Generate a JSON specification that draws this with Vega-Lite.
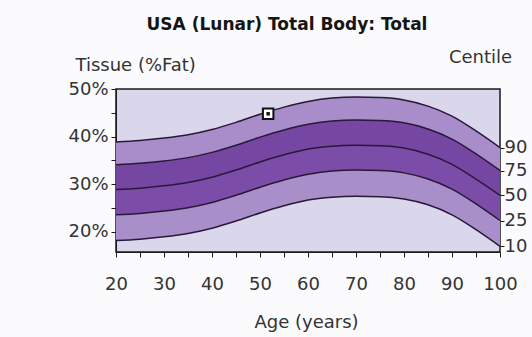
{
  "$schema": "https://vega.github.io/schema/vega-lite/v6.json",
  "width": 384,
  "height": 163,
  "autosize": {"type": "none"},
  "padding": {"left": 116, "top": 89, "right": 32, "bottom": 85},
  "background": "#fbfafc",
  "title": {"text": "USA (Lunar) Total Body: Total", "fontSize": 17, "fontWeight": "bold", "color": "#151515", "anchor": "middle", "dx": -21, "font": "DejaVu Sans", "offset": 14},
  "config": {
    "font": "DejaVu Sans",
    "view": {"fill": "#dad6ec", "stroke": "#1a1a1a", "strokeWidth": 1.5},
    "axis": {"grid": false, "domainColor": "#1a1a1a", "tickColor": "#1a1a1a", "labelFontSize": 18, "labelColor": "#333333", "titleFontSize": 18, "titleFontWeight": "normal", "titleColor": "#333333", "labelFont": "DejaVu Sans", "titleFont": "DejaVu Sans"}
  },
  "datasets": {
    "centiles": [
      {"age": 20, "p90": 38.9, "p75": 34.1, "p50": 28.9, "p25": 23.6, "p10": 18.2},
      {"age": 25, "p90": 39.2, "p75": 34.4, "p50": 29.2, "p25": 23.9, "p10": 18.5},
      {"age": 30, "p90": 39.7, "p75": 34.9, "p50": 29.7, "p25": 24.4, "p10": 19.0},
      {"age": 35, "p90": 40.4, "p75": 35.6, "p50": 30.4, "p25": 25.1, "p10": 19.7},
      {"age": 40, "p90": 41.5, "p75": 36.7, "p50": 31.5, "p25": 26.2, "p10": 20.8},
      {"age": 45, "p90": 43.0, "p75": 38.2, "p50": 33.0, "p25": 27.7, "p10": 22.3},
      {"age": 50, "p90": 44.7, "p75": 39.9, "p50": 34.7, "p25": 29.4, "p10": 24.0},
      {"age": 55, "p90": 46.2, "p75": 41.4, "p50": 36.2, "p25": 30.9, "p10": 25.5},
      {"age": 60, "p90": 47.4, "p75": 42.6, "p50": 37.4, "p25": 32.1, "p10": 26.7},
      {"age": 65, "p90": 48.1, "p75": 43.3, "p50": 38.0, "p25": 32.8, "p10": 27.3},
      {"age": 70, "p90": 48.3, "p75": 43.5, "p50": 38.2, "p25": 33.0, "p10": 27.5},
      {"age": 75, "p90": 48.2, "p75": 43.4, "p50": 38.1, "p25": 32.9, "p10": 27.4},
      {"age": 80, "p90": 47.7, "p75": 42.9, "p50": 37.6, "p25": 32.4, "p10": 26.9},
      {"age": 85, "p90": 46.4, "p75": 41.6, "p50": 36.3, "p25": 31.1, "p10": 25.7},
      {"age": 90, "p90": 44.3, "p75": 39.5, "p50": 34.2, "p25": 29.0, "p10": 23.6},
      {"age": 95, "p90": 41.2, "p75": 36.4, "p50": 31.1, "p25": 25.9, "p10": 20.5},
      {"age": 100, "p90": 37.7, "p75": 32.9, "p50": 27.7, "p25": 22.4, "p10": 17.0}
    ],
    "ends": [
      {"centile": "90", "pct": 37.7},
      {"centile": "75", "pct": 32.9},
      {"centile": "50", "pct": 27.7},
      {"centile": "25", "pct": 22.4},
      {"centile": "10", "pct": 17.0}
    ],
    "patient": [{"age": 51.7, "pct": 44.8}]
  },
  "data": {"name": "centiles"},
  "encoding": {
    "x": {"field": "age", "type": "quantitative", "scale": {"domain": [20, 100], "nice": false},
      "axis": {"values": [20, 25, 30, 35, 40, 45, 50, 55, 60, 65, 70, 75, 80, 85, 90, 95, 100], "labelExpr": "datum.value % 10 == 0 ? datum.label : ''", "tickSize": 5, "labelPadding": 18, "labelFlush": false, "labelOverlap": false, "title": "Age (years)", "titleY": 70, "titleBaseline": "middle", "titleX": 190}}
  },
  "layer": [
    {"mark": {"type": "area", "color": "#a88dca", "interpolate": "monotone"},
     "encoding": {"y": {"field": "p75", "type": "quantitative", "scale": {"domain": [15.8, 50], "nice": false, "zero": false},
       "axis": {"values": [20, 25, 30, 35, 40, 45, 50], "labelExpr": "datum.value % 10 == 0 ? datum.value + '%' : ''", "tickSize": 5, "labelPadding": 3, "title": "Tissue (%Fat)", "titleAngle": 0, "titleAlign": "left", "titleBaseline": "middle", "titleX": -41, "titleY": -24}},
       "y2": {"field": "p90"}}},
    {"mark": {"type": "area", "color": "#7646a3", "interpolate": "monotone"},
     "encoding": {"y": {"field": "p50", "type": "quantitative", "axis": null}, "y2": {"field": "p75"}}},
    {"mark": {"type": "area", "color": "#7b4ca8", "interpolate": "monotone"},
     "encoding": {"y": {"field": "p25", "type": "quantitative", "axis": null}, "y2": {"field": "p50"}}},
    {"mark": {"type": "area", "color": "#a98fca", "interpolate": "monotone"},
     "encoding": {"y": {"field": "p10", "type": "quantitative", "axis": null}, "y2": {"field": "p25"}}},
    {"mark": {"type": "line", "color": "#2a1838", "strokeWidth": 1.5, "interpolate": "monotone"},
     "encoding": {"y": {"field": "p90", "type": "quantitative", "axis": null}}},
    {"mark": {"type": "line", "color": "#2a1838", "strokeWidth": 1.5, "interpolate": "monotone"},
     "encoding": {"y": {"field": "p75", "type": "quantitative", "axis": null}}},
    {"mark": {"type": "line", "color": "#2a1838", "strokeWidth": 1.5, "interpolate": "monotone"},
     "encoding": {"y": {"field": "p50", "type": "quantitative", "axis": null}}},
    {"mark": {"type": "line", "color": "#2a1838", "strokeWidth": 1.5, "interpolate": "monotone"},
     "encoding": {"y": {"field": "p25", "type": "quantitative", "axis": null}}},
    {"mark": {"type": "line", "color": "#2a1838", "strokeWidth": 1.5, "interpolate": "monotone"},
     "encoding": {"y": {"field": "p10", "type": "quantitative", "axis": null}}},
    {"data": {"name": "patient"},
     "mark": {"type": "square", "size": 110, "filled": true, "fill": "#ffffff", "stroke": "#111111", "strokeWidth": 2, "opacity": 1},
     "encoding": {"x": {"field": "age", "type": "quantitative"}, "y": {"field": "pct", "type": "quantitative", "axis": null}}},
    {"data": {"name": "patient"},
     "mark": {"type": "square", "size": 12, "filled": true, "color": "#111111", "opacity": 1},
     "encoding": {"x": {"field": "age", "type": "quantitative"}, "y": {"field": "pct", "type": "quantitative", "axis": null}}},
    {"data": {"name": "ends"},
     "mark": {"type": "tick", "opacity": 0},
     "encoding": {"x": {"datum": 100, "type": "quantitative"},
       "y": {"field": "pct", "type": "quantitative",
         "axis": {"orient": "right", "values": [37.7, 32.9, 27.7, 22.4, 17.0], "labelExpr": "datum.value == 37.7 ? '90' : datum.value == 32.9 ? '75' : datum.value == 27.7 ? '50' : datum.value == 22.4 ? '25' : '10'", "tickSize": 4, "labelPadding": 0, "domain": false, "title": "Centile", "titleAngle": 0, "titleAlign": "center", "titleBaseline": "middle", "titleX": -20, "titleY": -32}}}}
  ],
  "resolve": {"axis": {"y": "independent"}}
}
